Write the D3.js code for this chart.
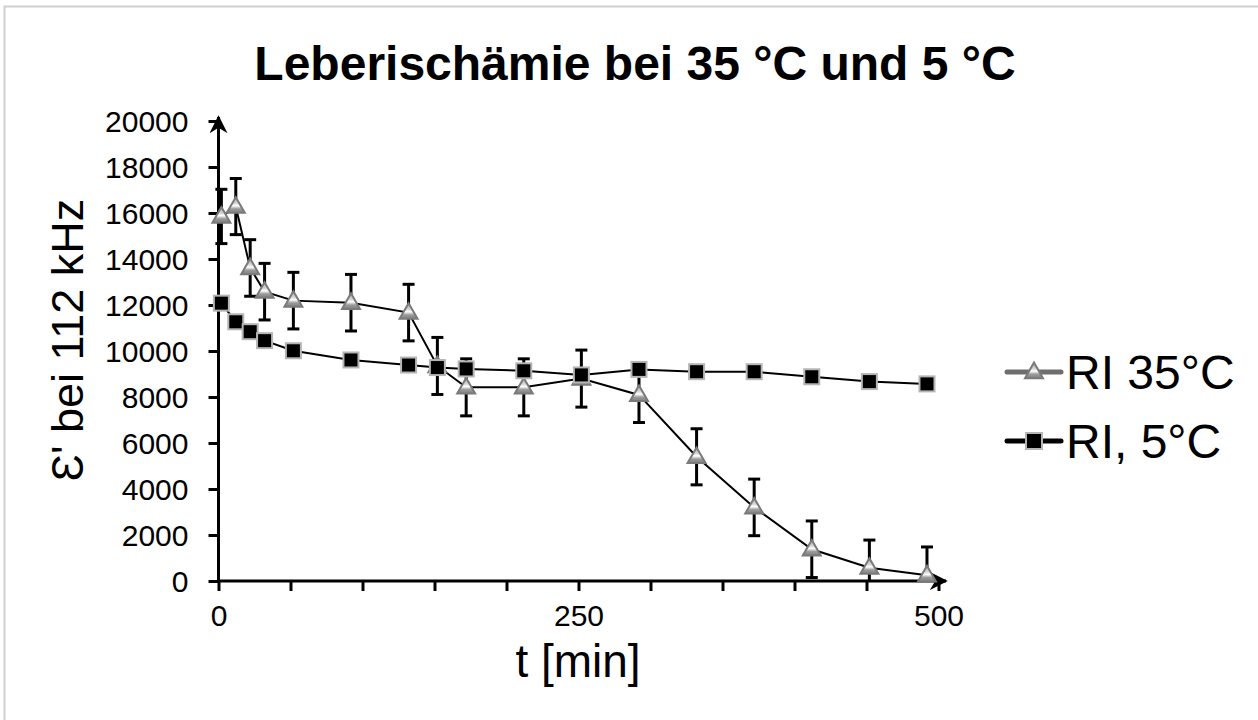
<!DOCTYPE html>
<html>
<head>
<meta charset="utf-8">
<script src="https://cdn.jsdelivr.net/npm/d3@7"></script>
<style>
  body { margin: 0; background: #fff; }
  svg { display: block; font-family: "Liberation Sans", Arial, sans-serif; }
</style>
</head>
<body>
<div id="chart"></div>
<script>
// time points (min), same for both series
const times = [2, 12, 22, 32, 52, 92, 132, 152, 172, 212, 252, 292, 332, 372, 412, 452, 492];
// RI 35°C mean and error
const warmVals = [15850, 16280, 13610, 12580, 12190, 12100, 11670, 9350, 8420, 8420, 8800, 8090, 5400, 3200, 1380, 580, 250];
const warmErr  = [1180, 1220, 1230, 1230, 1230, 1230, 1230, 1240, 1240, 1240, 1240, 1200, 1220, 1230, 1230, 1200, 1230];
// RI, 5°C mean
const coldVals = [12080, 11270, 10840, 10450, 10010, 9610, 9390, 9280, 9220, 9140, 8960, 9200, 9100, 9100, 8880, 8670, 8570];

const yTicks = [0, 2000, 4000, 6000, 8000, 10000, 12000, 14000, 16000, 18000, 20000];
const xTicks = d3.range(0, 501, 50);
const xLabels = [0, 250, 500];

const W = 1258, H = 720;
var svg = d3.select("#chart").append("svg")
  .attr("width", W).attr("height", H);

var defs = svg.append("defs");
var grad = defs.append("linearGradient").attr("id", "triFill")
  .attr("x1", 0).attr("y1", 0).attr("x2", 0).attr("y2", 1);
grad.append("stop").attr("offset", "0%").attr("stop-color", "#a8a8a8");
grad.append("stop").attr("offset", "40%").attr("stop-color", "#d8d8d8");
grad.append("stop").attr("offset", "55%").attr("stop-color", "#ffffff");
grad.append("stop").attr("offset", "75%").attr("stop-color", "#9a9a9a");
grad.append("stop").attr("offset", "100%").attr("stop-color", "#808080");

defs.append("marker").attr("id", "arrow")
  .attr("viewBox", "0 0 10 10").attr("refX", 9).attr("refY", 5)
  .attr("markerWidth", 6).attr("markerHeight", 6).attr("markerUnits", "strokeWidth")
  .attr("orient", "auto")
  .append("path").attr("d", "M0,0 L10,5 L0,10 L3,5 Z").attr("fill", "#000");

// outer frame (only top and left fall inside the picture)
svg.append("rect").attr("x", 4.5).attr("y", 6.5).attr("width", 1260).attr("height", 720)
  .attr("fill", "none").attr("stroke", "#d0d0d0").attr("stroke-width", 2);

var x = d3.scaleLinear().domain([0, 500]).range([218.5, 938.5]);
var y = d3.scaleLinear().domain([0, 20000]).range([581, 121]);

// title
svg.append("text").attr("x", 635).attr("y", 80).attr("text-anchor", "middle")
  .attr("font-size", 48).attr("font-weight", "bold").text("Leberischämie bei 35 °C und 5 °C");

// axes
var yAxis = svg.append("g").attr("transform", "translate(218.5,0)")
  .call(d3.axisLeft(y).tickValues(yTicks).tickSize(10).tickPadding(20).tickFormat(d3.format("d")));
var xAxis = svg.append("g").attr("transform", "translate(0,581)")
  .call(d3.axisBottom(x).tickValues(xTicks).tickSize(10).tickPadding(14)
    .tickFormat(d => xLabels.includes(d) ? d : ""));
[yAxis, xAxis].forEach(function(g){
  g.select(".domain").remove();
  g.selectAll(".tick line").attr("stroke", "#000").attr("stroke-width", 3);
  g.selectAll(".tick text").attr("font-size", 30).attr("fill", "#000")
    .attr("font-family", "Liberation Sans, Arial, sans-serif");
});
yAxis.selectAll(".tick text").attr("dy", "0.35em");

svg.append("line").attr("x1", 218.5).attr("x2", 218.5).attr("y1", 582.5).attr("y2", 117)
  .attr("stroke", "#000").attr("stroke-width", 3).attr("marker-end", "url(#arrow)");
svg.append("line").attr("x1", 217).attr("x2", 946).attr("y1", 581).attr("y2", 581)
  .attr("stroke", "#000").attr("stroke-width", 3).attr("marker-end", "url(#arrow)");

// axis titles
svg.append("text").attr("x", 578).attr("y", 677).attr("text-anchor", "middle")
  .attr("font-size", 46).text("t [min]");
svg.append("text").attr("transform", "translate(83,340) rotate(-90)")
  .attr("text-anchor", "middle").attr("font-size", 45).text("Ɛ' bei 112 kHz");

var warm = times.map((t, i) => ({t: t, v: warmVals[i], e: warmErr[i]}));
var cold = times.map((t, i) => ({t: t, v: coldVals[i]}));

var line = d3.line().x(d => x(d.t)).y(d => y(d.v));
var tri = d3.symbol().type(d3.symbolTriangle).size(140);

// 35°C series
svg.append("path").datum(warm).attr("d", line)
  .attr("fill", "none").attr("stroke", "#000").attr("stroke-width", 2);
var eb = svg.append("g").selectAll("g").data(warm).enter().append("g")
  .attr("stroke", "#000").attr("stroke-width", 3);
eb.append("line").attr("x1", d => x(d.t)).attr("x2", d => x(d.t))
  .attr("y1", d => y(Math.max(0, d.v - d.e))).attr("y2", d => y(d.v + d.e));
eb.append("line").attr("x1", d => x(d.t) - 6).attr("x2", d => x(d.t) + 6)
  .attr("y1", d => y(d.v + d.e)).attr("y2", d => y(d.v + d.e));
eb.filter(d => d.v - d.e > 0).append("line")
  .attr("x1", d => x(d.t) - 6).attr("x2", d => x(d.t) + 6)
  .attr("y1", d => y(d.v - d.e)).attr("y2", d => y(d.v - d.e));
svg.append("g").selectAll("path").data(warm).enter().append("path")
  .attr("d", tri).attr("transform", d => "translate(" + x(d.t) + "," + (y(d.v) + 1) + ")")
  .attr("fill", "url(#triFill)").attr("stroke", "#7a7a7a").attr("stroke-width", 2);

// 5°C series
svg.append("path").datum(cold).attr("d", line)
  .attr("fill", "none").attr("stroke", "#000").attr("stroke-width", 2);
svg.append("g").selectAll("rect").data(cold).enter().append("rect")
  .attr("x", d => x(d.t) - 7.5).attr("y", d => y(d.v) - 7.5)
  .attr("width", 15).attr("height", 15)
  .attr("fill", "#000").attr("stroke", "#b5b5b5").attr("stroke-width", 2);

// legend
var leg = svg.append("g");
leg.append("line").attr("x1", 1007).attr("x2", 1061).attr("y1", 372).attr("y2", 372)
  .attr("stroke", "#6e6e6e").attr("stroke-width", 5).attr("stroke-linecap", "round");
leg.append("path").attr("d", tri).attr("transform", "translate(1034,373)")
  .attr("fill", "url(#triFill)").attr("stroke", "#7a7a7a").attr("stroke-width", 2);
leg.append("text").attr("x", 1066).attr("y", 389).attr("font-size", 48).text("RI 35°C");
leg.append("line").attr("x1", 1007).attr("x2", 1061).attr("y1", 441).attr("y2", 441)
  .attr("stroke", "#000").attr("stroke-width", 5).attr("stroke-linecap", "round");
leg.append("rect").attr("x", 1026).attr("y", 433).attr("width", 16).attr("height", 16)
  .attr("fill", "#000").attr("stroke", "#b5b5b5").attr("stroke-width", 2);
leg.append("text").attr("x", 1066).attr("y", 458).attr("font-size", 48).text("RI, 5°C");
</script>
</body>
</html>
